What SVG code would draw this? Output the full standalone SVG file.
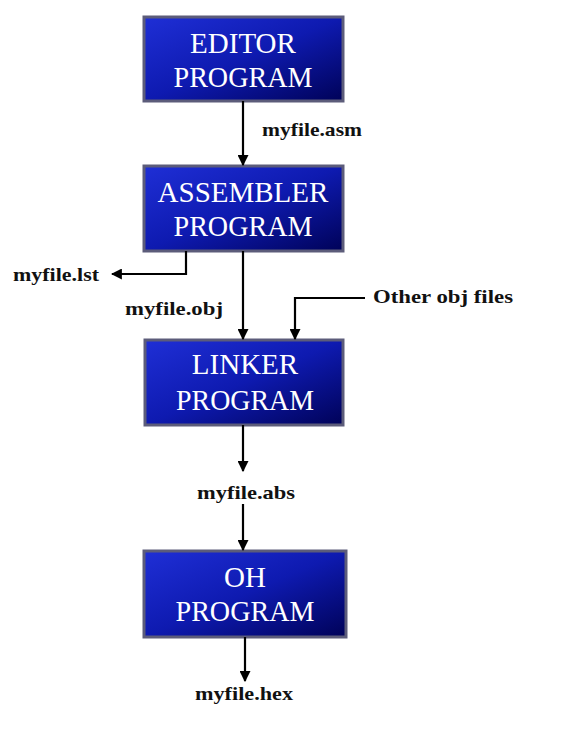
<svg xmlns="http://www.w3.org/2000/svg" width="569" height="731" viewBox="0 0 569 731">
<defs>
<linearGradient id="g" x1="0" y1="0" x2="1" y2="1">
<stop offset="0" stop-color="#1f2fd6"/>
<stop offset="0.5" stop-color="#0e1ab0"/>
<stop offset="1" stop-color="#000258"/>
</linearGradient>
<marker id="ah" viewBox="0 0 10 10" refX="9" refY="5" markerWidth="5" markerHeight="5" orient="auto" markerUnits="strokeWidth">
<path d="M0,0 L10,5 L0,10 Z" fill="#000"/>
</marker>
<style>
.box{fill:url(#g);stroke:#5c5c7a;stroke-width:3}
.bt{font-family:"Liberation Serif",serif;font-size:29px;fill:#fff;text-anchor:middle}
.lb{font-family:"Liberation Serif",serif;font-size:19px;font-weight:bold;fill:#111}
.c{fill:none;stroke:#000;stroke-width:2.2;marker-end:url(#ah)}
</style>
</defs>
<rect width="569" height="731" fill="#fff"/>
<g id="editor"><rect class="box" x="144" y="17" width="199" height="84"/><text class="bt" x="243" y="53">EDITOR</text><text class="bt" x="243" y="87" textLength="139" lengthAdjust="spacingAndGlyphs">PROGRAM</text></g>
<g id="assembler"><rect class="box" x="144" y="166" width="199" height="85"/><text class="bt" x="243" y="202">ASSEMBLER</text><text class="bt" x="243" y="236" textLength="139" lengthAdjust="spacingAndGlyphs">PROGRAM</text></g>
<g id="linker"><rect class="box" x="145" y="340" width="198" height="85"/><text class="bt" x="245" y="374">LINKER</text><text class="bt" x="245" y="410" textLength="138" lengthAdjust="spacingAndGlyphs">PROGRAM</text></g>
<g id="oh"><rect class="box" x="144" y="551" width="202" height="86"/><text class="bt" x="245" y="587">OH</text><text class="bt" x="245" y="621" textLength="139" lengthAdjust="spacingAndGlyphs">PROGRAM</text></g>
<g id="connectors">
<path class="c" d="M243,101 V165"/>
<path class="c" d="M186,251 V274 H112"/>
<path class="c" d="M243,251 V339"/>
<path class="c" d="M365,298 H295 V339"/>
<path class="c" d="M243,425 V471"/>
<path class="c" d="M243,504 V550"/>
<path class="c" d="M245,637 V681"/>
</g>
<g id="labels">
<text class="lb" x="262" y="136" textLength="100" lengthAdjust="spacingAndGlyphs">myfile.asm</text>
<text class="lb" x="13" y="281" textLength="86" lengthAdjust="spacingAndGlyphs">myfile.lst</text>
<text class="lb" x="125" y="315" textLength="98" lengthAdjust="spacingAndGlyphs">myfile.obj</text>
<text class="lb" x="373" y="303" textLength="140" lengthAdjust="spacingAndGlyphs">Other obj files</text>
<text class="lb" x="197" y="499" textLength="98" lengthAdjust="spacingAndGlyphs">myfile.abs</text>
<text class="lb" x="195" y="700" textLength="98" lengthAdjust="spacingAndGlyphs">myfile.hex</text>
</g>
</svg>
